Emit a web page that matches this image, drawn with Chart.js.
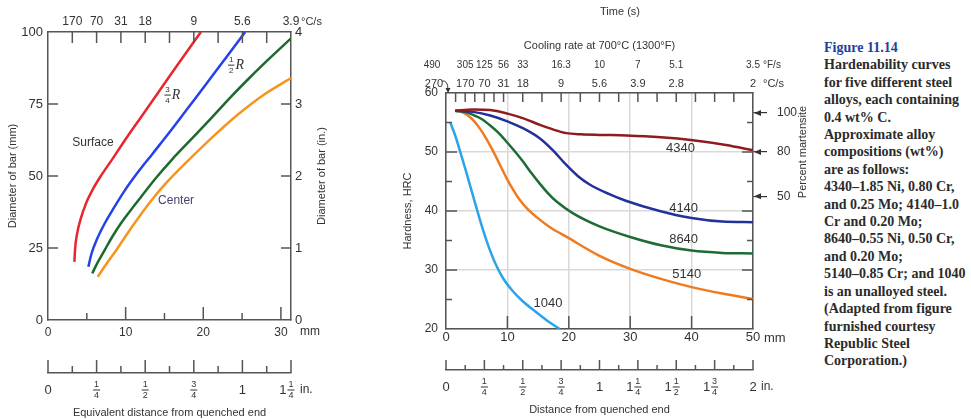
<!DOCTYPE html>
<html>
<head>
<meta charset="utf-8">
<script src="https://cdn.jsdelivr.net/npm/chart.js@4.4.0/dist/chart.umd.min.js"></script>
<style>
  html, body { margin: 0; padding: 0; background: #fff; }
  body { width: 971px; height: 420px; position: relative; overflow: hidden; }
  #left { position: absolute; left: 0; top: 0; }
  #right { position: absolute; left: 380px; top: 0; }
  #caption {
    position: absolute; left: 824px; top: 39px;
    font-family: "Liberation Serif", "DejaVu Serif", serif; font-weight: bold;
    font-size: 14px; line-height: 17.4px; color: #2b2b2b; white-space: nowrap;
  }
  #caption .fig { color: #1e3f9e; }
</style>
</head>
<body>
<canvas id="left" width="340" height="420"></canvas>
<canvas id="right" width="440" height="420"></canvas>
<div id="caption">
  <span class="fig">Figure 11.14</span><br>
  Hardenability curves<br>
  for five different steel<br>
  alloys, each containing<br>
  0.4 wt% C.<br>
  Approximate alloy<br>
  compositions (wt%)<br>
  are as follows:<br>
  4340–1.85 Ni, 0.80 Cr,<br>
  and 0.25 Mo; 4140–1.0<br>
  Cr and 0.20 Mo;<br>
  8640–0.55 Ni, 0.50 Cr,<br>
  and 0.20 Mo;<br>
  5140–0.85 Cr; and 1040<br>
  is an unalloyed steel.<br>
  (Adapted from figure<br>
  furnished courtesy<br>
  Republic Steel<br>
  Corporation.)
</div>
<script>
'use strict';

// left chart: bar diameter against equivalent distance from quenched end
var leftMmTicks = [0, 10, 20, 30];
var leftDiamTicks = [0, 25, 50, 75, 100];
var leftInTicks = [0, 1, 2, 3, 4];
var leftRatePos = [0.125, 0.25, 0.375, 0.5, 0.75, 1, 1.25];   // inches
var leftRateC = ['170', '70', '31', '18', '9', '5.6', '3.9'];
var leftInchPos = [0, 0.25, 0.5, 0.75, 1, 1.25];
var leftInchText = ['0', '1/4', '1/2', '3/4', '1', '1 1/4'];

var surfaceX = [3.4, 3.5, 3.75, 4.2, 4.9, 5.8, 6.8, 8.2, 9.8, 12, 14.2, 16.4, 18.5, 19.7];
var surfaceY = [20.2, 25, 30, 35, 40.5, 45.5, 50, 55.5, 62, 70.5, 79, 87.5, 95.5, 100];
var r34X = [5.2, 5.6, 6.3, 7.3, 8.5, 9.9, 11.5, 13.4, 15.6, 18, 20.4, 22.9, 25.4];
var r34Y = [18.5, 23, 28, 33.5, 39, 45, 51, 57.5, 65, 73.5, 82, 91, 100];
var r12X = [5.7, 6.4, 7.3, 8.3, 9.4, 10.7, 12, 13.9, 16, 18.4, 21, 23.5, 26, 28.6, 31.3];
var r12Y = [16.2, 20, 24.3, 29, 33.6, 38.3, 42.8, 49.3, 55.8, 62.6, 70, 77.3, 84.2, 91, 97.8];
var centerX = [6.4, 7.4, 8.6, 9.8, 11.1, 12.4, 13.7, 15.2, 16.8, 18.6, 21.5, 24.9, 27.9, 31.3];
var centerY = [15, 19, 23.5, 28.3, 33.4, 38.3, 42.8, 47.5, 52, 56.8, 64.3, 72.3, 78.4, 84];

// right chart: Jominy hardness curves
var distTicks = [0, 10, 20, 30, 40, 50];
var hrcTicks = [20, 30, 40, 50, 60];
var rightRatePos = [0.125, 0.25, 0.375, 0.5, 0.75, 1, 1.25, 1.5, 2];
var rightRateC = ['170', '70', '31', '18', '9', '5.6', '3.9', '2.8', '2'];
var rightRateF = ['305', '125', '56', '33', '16.3', '10', '7', '5.1', '3.5'];
var rightInchPos = [0, 0.25, 0.5, 0.75, 1, 1.25, 1.5, 1.75, 2];
var rightInchText = ['0', '1/4', '1/2', '3/4', '1', '1 1/4', '1 1/2', '1 3/4', '2'];
var martHRC = [56.6, 50, 42.5];
var martPct = ['100', '80', '50'];

var s4340X = [1.5, 4.4, 7.2, 10, 12.6, 15.3, 17.5, 19.6, 22, 25, 29.4, 35, 40.2, 45.6, 50];
var s4340Y = [57, 57.2, 57.1, 56.5, 55.7, 54.6, 53.8, 53.2, 53, 52.9, 52.8, 52.5, 52, 51.2, 50.3];
var s4140X = [1.5, 4.4, 7.2, 10, 12.6, 15.3, 17.5, 19.6, 21.5, 23.4, 26.5, 29.4, 34.8, 40, 45, 50];
var s4140Y = [57, 56.8, 56.2, 55.2, 54, 52.3, 50.2, 47.8, 45.9, 44.5, 42.9, 41.7, 40, 38.8, 38.2, 38.1];
var s8640X = [1.5, 3, 4.4, 5.8, 7.2, 8.6, 9.9, 11.3, 12.6, 14, 15.3, 16.7, 18, 20.7, 25, 30, 35, 40, 45, 50];
var s8640Y = [57, 56.8, 56.3, 55.6, 54.5, 53.2, 51.7, 50, 48.3, 46.3, 44.6, 42.9, 41.6, 39.6, 37.4, 35.6, 34.2, 33.3, 32.9, 32.8];
var s5140X = [1.5, 2.5, 3.4, 4.5, 5.5, 6.6, 7.7, 8.8, 9.9, 11, 12, 13.3, 14.7, 17, 20, 25, 30, 35, 40, 45, 50];
var s5140Y = [57, 56.8, 56.3, 55.3, 54, 52.2, 50.1, 47.8, 45.5, 43.5, 41.9, 40.3, 39, 37.2, 35.4, 32.4, 30.2, 28.5, 27.1, 26, 25.1];
var s1040X = [0.7, 1.5, 2.3, 3.1, 3.9, 5, 6, 7, 8, 9.3, 10.9, 12.5, 14.5, 16.5, 18.5];
var s1040Y = [55, 52.8, 50.1, 47.3, 44.4, 40.4, 36.9, 33.8, 31.2, 28.6, 26.4, 24.7, 23, 21.4, 20];

var axisColor = '#555';
var labelColor = '#333';
var sans = "'Liberation Sans', Arial, sans-serif";

function axis(o) {
  var s = {
    type: 'linear',
    axis: o.axis,
    position: o.position,
    weight: o.weight || 0,
    min: o.min,
    max: o.max,
    afterFit: function (sc) {
      if (sc.isHorizontal()) sc.height = o.size; else sc.width = o.size;
    },
    afterBuildTicks: function (sc) {
      sc.ticks = o.at.map(function (v) { return { value: v }; });
    },
    grid: { display: !!o.grid, drawTicks: false, color: '#d9d9d9', lineWidth: 1.5 },
    border: { display: o.border !== false, color: axisColor, width: 1.5 },
    ticks: {
      display: o.labels !== false, padding: o.pad || 0, autoSkip: false, maxRotation: 0,
      color: labelColor, font: { family: sans, size: o.fs || 12 }
    },
    title: { display: false }
  };
  if (o.names) s.ticks.callback = function (v, i) { return o.names[i]; };
  if (o.title) {
    s.title = { display: true, text: o.title, color: labelColor,
      font: { family: sans, size: 11 }, padding: o.titlePad };
  }
  return s;
}

function curve(xs, ys, color) {
  return {
    data: xs.map(function (x, i) { return { x: x, y: ys[i] }; }),
    borderColor: color, borderWidth: 2.5, pointRadius: 0, fill: false,
    cubicInterpolationMode: 'monotone', xAxisID: 'x', yAxisID: 'y'
  };
}

// short tick marks drawn inward from an axis line
function tickMarks(sets) {
  return {
    id: 'tickMarks',
    afterDatasetsDraw: function (chart) {
      var ctx = chart.ctx;
      ctx.save();
      ctx.strokeStyle = axisColor;
      ctx.lineWidth = 1.5;
      sets.forEach(function (set) {
        var s = chart.scales[set.scale];
        set.values.forEach(function (v, i) {
          var len = Array.isArray(set.len) ? set.len[i] : set.len;
          var p = s.getPixelForValue(v);
          ctx.beginPath();
          if (s.isHorizontal()) {
            var y0 = s.position === 'top' ? s.bottom : s.top;
            ctx.moveTo(p, y0);
            ctx.lineTo(p, y0 + (s.position === 'top' ? len : -len));
          } else {
            var x0 = s.position === 'left' ? s.right : s.left;
            ctx.moveTo(x0, p);
            ctx.lineTo(x0 + (s.position === 'left' ? len : -len), p);
          }
          ctx.stroke();
        });
      });
      ctx.restore();
    }
  };
}

function drawFrac(ctx, text, x, y, size, tail) {
  var whole = '', frac = null;
  text.split(' ').forEach(function (p) {
    if (p.indexOf('/') > 0) frac = p.split('/'); else whole = p;
  });
  ctx.font = size + 'px ' + sans;
  var ww = whole ? ctx.measureText(whole).width : 0;
  ctx.font = (size - 4) + 'px ' + sans;
  var fw = frac ? Math.max(ctx.measureText(frac[0]).width, ctx.measureText(frac[1]).width) + 2 : 0;
  var gap = whole && frac ? 1 : 0;
  var x0 = frac ? x - (ww + gap + fw / 2) : x - ww / 2;
  ctx.textBaseline = 'middle';
  ctx.textAlign = 'left';
  if (whole) {
    ctx.font = size + 'px ' + sans;
    ctx.fillText(whole, x0, y);
  }
  if (frac) {
    var fx = x0 + ww + gap + fw / 2;
    ctx.font = (size - 4) + 'px ' + sans;
    ctx.textAlign = 'center';
    ctx.fillText(frac[0], fx, y - 5);
    ctx.fillText(frac[1], fx, y + 5.5);
    ctx.fillRect(fx - fw / 2, y - 0.5, fw, 1);
    if (tail) {
      ctx.font = 'italic 14px "Liberation Serif", serif';
      ctx.textAlign = 'left';
      ctx.fillText(tail, fx + fw / 2 + 1, y);
    }
  }
}

// free text, placed either on the scales or in canvas pixels
function notes(items, fracs) {
  return {
    id: 'notes',
    afterDraw: function (chart) {
      var ctx = chart.ctx;
      items.forEach(function (t) {
        var x = t.xs ? chart.scales[t.xs].getPixelForValue(t.x) : t.x;
        var y = t.ys ? chart.scales[t.ys].getPixelForValue(t.y) : t.y;
        ctx.save();
        ctx.translate(x, y);
        if (t.rot) ctx.rotate(t.rot);
        ctx.font = (t.size || 12) + 'px ' + sans;
        ctx.fillStyle = t.color || labelColor;
        ctx.textAlign = t.align || 'center';
        ctx.textBaseline = 'middle';
        ctx.fillText(t.text, 0, 0);
        ctx.restore();
      });
      ctx.save();
      ctx.fillStyle = labelColor;
      fracs.forEach(function (f) {
        var s = chart.scales[f.scale];
        f.values.forEach(function (v, i) {
          drawFrac(ctx, f.texts[i], s.getPixelForValue(v), s.top + f.dy, f.size);
        });
      });
      ctx.restore();
    }
  };
}

var quarterLen = function (vals, longLen, shortLen) {
  return vals.map(function (v) { return (v * 4) % 1 === 0 ? longLen : shortLen; });
};

// ---------- left chart ----------
var leftEighths = [0, 0.125, 0.25, 0.375, 0.5, 0.625, 0.75, 0.875, 1, 1.125, 1.25];
var leftTopTicks = [0.125, 0.25, 0.375, 0.5, 0.625, 0.75, 0.875, 1, 1.125];

new Chart(document.getElementById('left'), {
  type: 'line',
  data: {
    datasets: [
      curve(surfaceX, surfaceY, '#e8262e'),
      curve(r34X, r34Y, '#2541e8'),
      curve(r12X, r12Y, '#1c6b2d'),
      curve(centerX, centerY, '#f7941e')
    ]
  },
  options: {
    responsive: false,
    animation: false,
    layout: { padding: 0 },
    plugins: { legend: { display: false }, tooltip: { enabled: false } },
    scales: {
      x: axis({ axis: 'x', position: 'bottom', weight: 0, min: 0, max: 31.3, size: 53,
        at: leftMmTicks, pad: 5, fs: 12 }),
      xin: axis({ axis: 'x', position: 'bottom', weight: 1, min: 0, max: 1.25, size: 47,
        at: leftInchPos, labels: false,
        title: 'Equivalent distance from quenched end', titlePad: { top: 0, bottom: 0 } }),
      xt: axis({ axis: 'x', position: 'top', min: 0, max: 1.25, size: 32,
        at: leftRatePos, names: leftRateC, pad: 3, fs: 12 }),
      y: axis({ axis: 'y', position: 'left', min: 0, max: 100, size: 48,
        at: leftDiamTicks, pad: 5, fs: 13,
        title: 'Diameter of bar (mm)', titlePad: { top: 6, bottom: 0 } }),
      y2: axis({ axis: 'y', position: 'right', min: 0, max: 4, size: 49,
        at: leftInTicks, pad: 4, fs: 13 })
    }
  },
  plugins: [
    tickMarks([
      { scale: 'x', values: [5, 10, 15, 20, 25, 30], len: [7, 13, 7, 13, 7, 13] },
      { scale: 'xin', values: leftEighths, len: quarterLen(leftEighths, 13, 7) },
      { scale: 'xt', values: leftTopTicks, len: 11 },
      { scale: 'y', values: [25, 50, 75], len: 10 },
      { scale: 'y2', values: [1, 2, 3], len: 10 }
    ]),
    notes([
      { xs: 'x', ys: 'y', x: 5.8, y: 61.5, text: 'Surface' },
      { xs: 'x', ys: 'y', x: 16.5, y: 41.3, text: 'Center', color: '#4a3f6e' },
      { x: 322, y: 176, text: 'Diameter of bar (in.)', rot: -Math.PI / 2, size: 11 },
      { x: 301, y: 22, text: '°C/s', align: 'left', size: 11 },
      { x: 300, y: 332, text: 'mm', align: 'left', size: 12 },
      { x: 300, y: 390, text: 'in.', align: 'left', size: 12 }
    ], [
      { scale: 'xin', values: leftInchPos, texts: leftInchText, dy: 17, size: 13 }
    ]),
    {
      id: 'radiusLabels',
      afterDraw: function (chart) {
        var ctx = chart.ctx, sx = chart.scales.x, sy = chart.scales.y;
        ctx.save();
        ctx.fillStyle = '#333';
        drawFrac(ctx, '3/4', sx.getPixelForValue(15.4), sy.getPixelForValue(78.1), 12, 'R');
        drawFrac(ctx, '1/2', sx.getPixelForValue(23.6), sy.getPixelForValue(88.5), 12, 'R');
        ctx.restore();
      }
    }
  ]
});

// ---------- right chart ----------
var rightEighths = [0, 0.125, 0.25, 0.375, 0.5, 0.625, 0.75, 0.875, 1, 1.125, 1.25,
  1.375, 1.5, 1.625, 1.75, 1.875, 2];
var rightTopTicks = [0.0625, 0.125, 0.1875, 0.25, 0.3125, 0.375, 0.5, 0.625, 0.75, 0.875,
  1, 1.125, 1.25, 1.375, 1.5, 1.625, 1.75, 1.875];
var hrcMinor = [25, 30, 35, 40, 45, 50, 55];

var martAxis = axis({ axis: 'y', position: 'right', min: 20, max: 60, size: 67,
  at: martHRC, names: martPct, pad: 10, fs: 12 });
martAxis.grid = { display: true, drawOnChartArea: false, drawTicks: true, tickLength: 14,
  color: '#333', lineWidth: 1.2 };

var fAxis = axis({ axis: 'x', position: 'top', weight: 1, min: 0, max: 2, size: 75,
  at: rightRatePos, names: rightRateF, pad: 4, fs: 10, border: false,
  title: 'Cooling rate at 700°C (1300°F)', titlePad: { top: 39, bottom: 0 } });

new Chart(document.getElementById('right'), {
  type: 'line',
  data: {
    datasets: [
      curve(s4340X, s4340Y, '#8e1c1f'),
      curve(s4140X, s4140Y, '#22319a'),
      curve(s8640X, s8640Y, '#1f6b36'),
      curve(s5140X, s5140Y, '#f07a1e'),
      curve(s1040X, s1040Y, '#2ba3ea')
    ]
  },
  options: {
    responsive: false,
    animation: false,
    layout: { padding: 0 },
    plugins: { legend: { display: false }, tooltip: { enabled: false } },
    scales: {
      x: axis({ axis: 'x', position: 'bottom', weight: 0, min: 0, max: 50, size: 41,
        at: distTicks, pad: 1, fs: 13, grid: true }),
      xin: axis({ axis: 'x', position: 'bottom', weight: 1, min: 0, max: 2, size: 50,
        at: rightInchPos, labels: false,
        title: 'Distance from quenched end', titlePad: { top: 0, bottom: 3 } }),
      xc: axis({ axis: 'x', position: 'top', weight: 0, min: 0, max: 2, size: 18,
        at: rightRatePos, names: rightRateC, pad: 2, fs: 11 }),
      xf: fAxis,
      y: axis({ axis: 'y', position: 'left', min: 20, max: 60, size: 66,
        at: hrcTicks, pad: 8, fs: 12, grid: true,
        title: 'Hardness, HRC', titlePad: { top: 21, bottom: 0 } }),
      y2: martAxis
    }
  },
  plugins: [
    tickMarks([
      { scale: 'x', values: [10, 20, 30, 40], len: 13 },
      { scale: 'xin', values: rightEighths, len: quarterLen(rightEighths, 10, 5) },
      { scale: 'xc', values: rightTopTicks, len: 9 },
      { scale: 'y', values: hrcMinor, len: [6, 11, 6, 11, 6, 11, 6] },
      { scale: 'y2', values: hrcMinor, len: [6, 11, 6, 11, 6, 11, 6] }
    ]),
    notes([
      { x: 240, y: 12, text: 'Time (s)', size: 11 },
      { x: 52, y: 65, text: '490', size: 10 },
      { x: 54, y: 84, text: '270', size: 11 },
      { x: 383, y: 65, text: '°F/s', align: 'left', size: 10 },
      { x: 383, y: 84, text: '°C/s', align: 'left', size: 11 },
      { x: 384, y: 338, text: 'mm', align: 'left', size: 13 },
      { x: 381, y: 387, text: 'in.', align: 'left', size: 12 },
      { x: 423, y: 152, text: 'Percent martensite', rot: -Math.PI / 2, size: 11 },
      { xs: 'x', ys: 'y', x: 38.2, y: 50.6, text: '4340', size: 13 },
      { xs: 'x', ys: 'y', x: 38.7, y: 40.5, text: '4140', size: 13 },
      { xs: 'x', ys: 'y', x: 38.7, y: 35.1, text: '8640', size: 13 },
      { xs: 'x', ys: 'y', x: 39.2, y: 29.3, text: '5140', size: 13 },
      { xs: 'x', ys: 'y', x: 16.6, y: 24.4, text: '1040', size: 13 }
    ], [
      { scale: 'xin', values: rightInchPos, texts: rightInchText, dy: 17, size: 13 }
    ]),
    {
      id: 'martArrows',
      afterDraw: function (chart) {
        var ctx = chart.ctx, s = chart.scales.y2;
        ctx.save();
        ctx.fillStyle = '#333';
        martHRC.forEach(function (v) {
          var p = s.getPixelForValue(v);
          ctx.beginPath();
          ctx.moveTo(s.left + 1, p);
          ctx.lineTo(s.left + 8, p - 3);
          ctx.lineTo(s.left + 8, p + 3);
          ctx.closePath();
          ctx.fill();
        });
        // pointer from the 270 label down to the quenched end
        var x0 = chart.scales.x.getPixelForValue(0);
        var yTop = chart.chartArea.top;
        ctx.strokeStyle = '#333';
        ctx.lineWidth = 1;
        ctx.beginPath();
        ctx.moveTo(x0 - 4, yTop - 12);
        ctx.quadraticCurveTo(x0 + 2, yTop - 13, x0 + 2, yTop - 3);
        ctx.stroke();
        ctx.beginPath();
        ctx.moveTo(x0 + 2, yTop);
        ctx.lineTo(x0 - 0.5, yTop - 5);
        ctx.lineTo(x0 + 4.5, yTop - 5);
        ctx.closePath();
        ctx.fill();
        ctx.restore();
      }
    }
  ]
});
</script>
</body>
</html>
